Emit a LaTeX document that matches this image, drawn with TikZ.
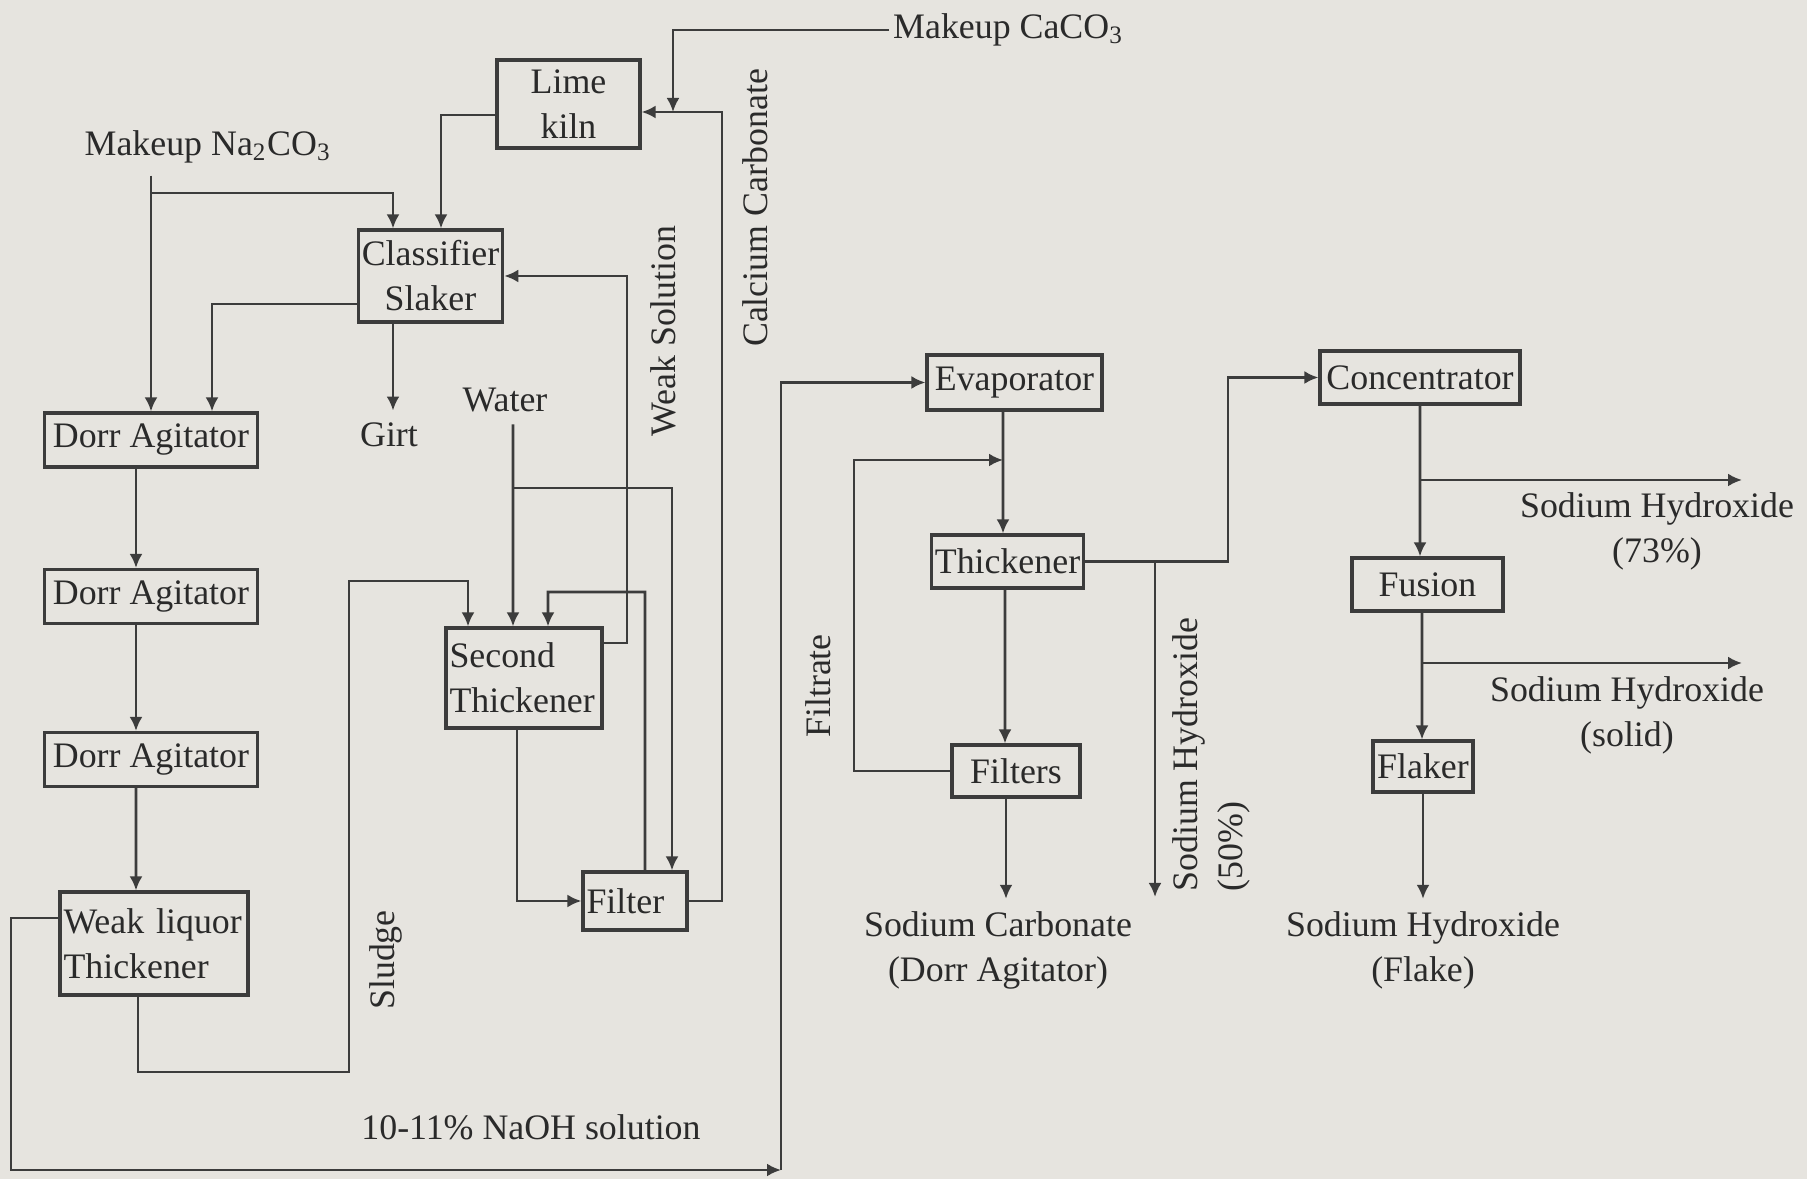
\documentclass[tikz,border=0pt]{standalone}
\usepackage{fontspec}
\setmainfont{Liberation Serif}
\usepackage{tikz}
\usetikzlibrary{arrows.meta}
\usepackage{xcolor}
\definecolor{fpaper}{HTML}{E6E4DF}
\definecolor{fline}{HTML}{3C3C3C}
\definecolor{fink}{HTML}{2A2A2A}

\begin{document}
\begin{tikzpicture}[x=1cm, y=-1cm,
  font=\fontsize{10.2pt}{12.8pt}\selectfont,
  every node/.style={text=fink},
  unit/.style={draw=fline, line width=0.9pt, inner sep=1pt, align=center},
  pipe/.style={draw=fline, line width=0.75pt},
  flow/.style={pipe, -{Latex[length=1.4mm, width=1.3mm]}}]
\fill[fpaper] (0,0) rectangle (18.07,11.79);
\useasboundingbox (0,0) rectangle (18.07,11.79);
% ---------------- lime and causticizing train ----------------
\node[unit, minimum width=1.43cm, minimum height=0.88cm] (kiln) at (5.685,1.04) {Lime\\kiln};
\node[unit, minimum width=1.39cm, minimum height=0.92cm] (slaker) at (4.305,2.76) {Classifier\\Slaker};
\node[unit, minimum width=2.13cm, minimum height=0.54cm] (da1) at (1.51,4.40) {Dorr Agitator};
\node[unit, minimum width=2.13cm, minimum height=0.54cm] (da2) at (1.51,5.965) {Dorr Agitator};
\node[unit, minimum width=2.13cm, minimum height=0.54cm] (da3) at (1.51,7.595) {Dorr Agitator};
\node[unit, text width=1.81cm, align=left, minimum height=1.03cm] (wlt) at (1.54,9.435) {Weak liquor\\Thickener};
\node[unit, text width=1.49cm, align=left, minimum height=1.00cm] (st) at (5.24,6.78) {Second\\Thickener};
\node[unit, text width=0.97cm, align=left, minimum height=0.58cm] (filt) at (6.35,9.01) {Filter};
% ---------------- evaporation and caustic finishing ----------------
\node[unit, minimum width=1.75cm, minimum height=0.55cm] (evap) at (10.145,3.825) {Evaporator};
\node[unit, minimum width=1.51cm, minimum height=0.53cm] (thk) at (10.075,5.615) {Thickener};
\node[unit, minimum width=1.28cm, minimum height=0.52cm] (filts) at (10.16,7.71) {Filters};
\node[unit, minimum width=2.00cm, minimum height=0.53cm] (conc) at (14.20,3.775) {Concentrator};
\node[unit, minimum width=1.51cm, minimum height=0.53cm] (fus) at (14.275,5.845) {Fusion};
\node[unit, minimum width=1.00cm, minimum height=0.51cm] (flak) at (14.23,7.665) {Flaker};
% stream labels
\node[anchor=west, inner sep=1pt] (caco) at (8.89,0.30) {Makeup CaCO\textsubscript{3}};
\node (soda) at (2.08,1.47) {Makeup Na\textsubscript{2}CO\textsubscript{3}};
\node[rotate=90] (cclabel) at (7.55,2.08) {Calcium Carbonate};
\node[rotate=90] (weak) at (6.63,3.31) {Weak Solution};
\node (girt) at (3.89,4.35) {Girt};
\node (water) at (5.05,4.00) {Water};
\node[rotate=90] (sludge) at (3.86,9.60) {Sludge};
\node (naoh) at (5.31,11.27) {10-11\% NaOH solution};
\node[rotate=90] (filtrate) at (8.18,6.86) {Filtrate};
\node[align=center] (sc) at (9.98,9.50) {Sodium Carbonate\\(Dorr Agitator)};
\node[rotate=90, anchor=west, align=left] (sh50) at (12.11,9.04) {Sodium Hydroxide\\(50\%)};
\node[align=center] (sh73) at (16.57,5.31) {Sodium Hydroxide\\(73\%)};
\node[align=center] (shsol) at (16.27,7.15) {Sodium Hydroxide\\(solid)};
\node[align=center] (shflk) at (14.23,9.50) {Sodium Hydroxide\\(Flake)};
% ---------------- lime circuit ----------------
\coordinate (cajoin) at (6.73,1.12);
\coordinate (cabend) at (7.22,1.12);
\draw[flow] (caco.west) -| (cajoin);
\draw[flow] (filt.east) -| (cabend) -- (cabend -| kiln.east);
\draw[flow] (soda.south -| da1.north) -- (da1.north);
\coordinate (sodajoin) at (1.51,1.93);
\draw[flow] (sodajoin) -| ([xshift=-3.75mm]slaker.north);
\draw[flow] ([yshift=-1.1mm]kiln.west) -| ([xshift=1.05mm]slaker.north);
\draw[flow] ([yshift=-2.8mm]slaker.west) -| ([xshift=6.1mm]da1.north);
\draw[flow] ([xshift=-3.75mm]slaker.south) -- ([xshift=-3.75mm]slaker.south |- girt.north);
\coordinate (weakbend) at (6.27,2.76);
\draw[flow] ([yshift=3.5mm]st.east) -| (weakbend) -- (slaker.east);
% water, sludge and filter loop
\draw[flow] ([xshift=0.8mm]water.south) -- ([xshift=-1.1mm]st.north);
\coordinate (waterjoin) at (5.13,4.88);
\draw[flow] (waterjoin) -| ([xshift=3.7mm]filt.north);
\coordinate (sludgelow) at (3.49,10.72);
\coordinate (sludgetop) at (3.49,5.81);
\draw[flow] ([xshift=-1.6mm]wlt.south) |- (sludgelow) -- (sludgetop) -| ([xshift=-5.6mm]st.north);
\draw[flow] ([xshift=-0.7mm]st.south) |- (filt.west);
\coordinate (filtback) at (6.45,5.92);
\draw[flow] ([xshift=1mm]filt.north) -- (filtback) -| ([xshift=2.4mm]st.north);
% agitator chain
\draw[flow] ([xshift=-1.5mm]da1.south) -- ([xshift=-1.5mm]da2.north);
\draw[flow] ([xshift=-1.5mm]da2.south) -- ([xshift=-1.5mm]da3.north);
\draw[flow] ([xshift=-1.5mm]da3.south) -- ([xshift=-1.8mm]wlt.north);
% 10-11% liquor to the evaporator
\coordinate (naohleft) at (0.11,11.70);
\coordinate (naohright) at (7.81,11.70);
\draw[flow] ([yshift=2.55mm]wlt.west) -| (naohleft) -- (naohright);
\draw[flow] (naohright) |- (evap.west);
% ---------------- evaporator side ----------------
\draw[flow] ([xshift=-1.15mm]evap.south) -- ([xshift=-0.45mm]thk.north);
\coordinate (looptop) at (8.54,4.60);
\coordinate (loopjoin) at (10.03,4.60);
\draw[flow] (filts.west) -| (looptop) -- (loopjoin);
\draw[flow] ([xshift=-0.25mm]thk.south) -- ([xshift=-1.1mm]filts.north);
\draw[flow] ([xshift=-1mm]filts.south) -- ([xshift=-1mm]filts.south |- sc.north);
\coordinate (concbend) at (12.28,3.775);
\draw[flow] (thk.east) -| (concbend) -- (conc.west);
\coordinate (j50) at (11.55,5.615);
\coordinate (e50) at (11.55,8.97);
\draw[flow] (j50) -- (e50);
\draw[flow] (conc.south) -- ([xshift=-0.75mm]fus.north);
\coordinate (j73) at (14.20,4.80);
\coordinate (e73) at (17.42,4.80);
\draw[flow] (j73) -- (e73);
\draw[flow] ([xshift=-0.55mm]fus.south) -- ([xshift=-0.1mm]flak.north);
\coordinate (jsol) at (14.22,6.63);
\coordinate (esol) at (17.42,6.63);
\draw[flow] (jsol) -- (esol);
\draw[flow] (flak.south) -- (flak.south |- shflk.north);
\end{tikzpicture}
\end{document}
